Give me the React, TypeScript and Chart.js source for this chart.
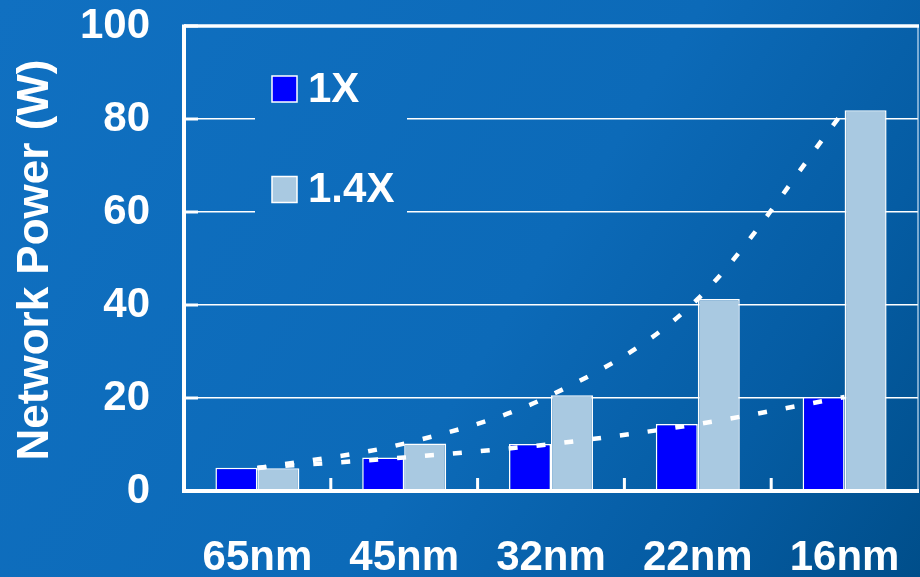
import React, { useEffect, useRef } from "react";
import { Chart, registerables } from "chart.js";

Chart.register(...registerables);

const categories = ["65nm", "45nm", "32nm", "22nm", "16nm"];
const series1X = [5.0, 7.2, 10.1, 14.4, 20.2];
const series14X = [4.9, 10.2, 20.6, 41.3, 81.9];
const yTicks = [0, 20, 40, 60, 80, 100];
const legendLabels = ["1X", "1.4X"];
const yTitle = "Network Power (W)";

const FONT = '"Liberation Sans", Arial, Helvetica, sans-serif';
const COLOR_1X = "#0000ff";
const COLOR_14X = "#a9c9e1";

function makeBg(ctx: CanvasRenderingContext2D, w: number, h: number) {
  const g = ctx.createLinearGradient(0, 0, w, h);
  g.addColorStop(0, "rgb(16,112,193)");
  g.addColorStop(0.55, "rgb(12,106,184)");
  g.addColorStop(0.8, "rgb(5,92,163)");
  g.addColorStop(1, "rgb(0,78,138)");
  return g;
}

const decorPlugin = {
  id: "decor",
  beforeDraw(chart: any) {
    const { ctx, width, height } = chart;
    ctx.save();
    ctx.fillStyle = makeBg(ctx, width, height);
    ctx.fillRect(0, 0, width, height);
    ctx.restore();
  },
  beforeDatasetsDraw(chart: any) {
    const { ctx, width, height } = chart;
    ctx.save();
    // legend box covering gridlines
    ctx.fillStyle = makeBg(ctx, width, height);
    ctx.fillRect(255, 45, 152, 185);
    const colors = [COLOR_1X, COLOR_14X];
    const ys = [89, 189.5];
    ctx.font = `bold 42px ${FONT}`;
    ctx.textBaseline = "middle";
    ctx.textAlign = "left";
    legendLabels.forEach((lab, i) => {
      ctx.fillStyle = colors[i];
      ctx.fillRect(272, ys[i] - 13, 25, 26);
      ctx.strokeStyle = "#ffffff";
      ctx.lineWidth = 1.5;
      ctx.strokeRect(272, ys[i] - 13, 25, 26);
      ctx.fillStyle = "#ffffff";
      ctx.fillText(lab, 308, ys[i] + 1);
    });
    ctx.restore();
  },
  afterDraw(chart: any) {
    const { ctx, chartArea } = chart;
    const { left, right, top, bottom } = chartArea;
    const yScale = chart.scales.y;
    ctx.save();
    // right thin border
    ctx.lineWidth = 1.2;
    ctx.strokeStyle = "rgba(215,232,248,0.95)";
    ctx.beginPath();
    ctx.moveTo(right, top);
    ctx.lineTo(right, bottom);
    ctx.stroke();
    ctx.strokeStyle = "#ffffff";
    // top border
    ctx.lineWidth = 3.5;
    ctx.beginPath();
    ctx.moveTo(left, top);
    ctx.lineTo(right + 1, top);
    ctx.stroke();
    // left axis
    ctx.lineWidth = 4;
    ctx.beginPath();
    ctx.moveTo(left, top - 1.5);
    ctx.lineTo(left, bottom + 2);
    ctx.stroke();
    // bottom axis
    ctx.beginPath();
    ctx.moveTo(left - 2, bottom);
    ctx.lineTo(right + 1, bottom);
    ctx.stroke();
    // y inward ticks
    ctx.lineWidth = 3;
    yTicks.forEach((v) => {
      const y = yScale.getPixelForValue(v);
      ctx.beginPath();
      ctx.moveTo(left, y);
      ctx.lineTo(left + 14, y);
      ctx.stroke();
    });
    // x inward ticks at category boundaries
    const cw = (right - left) / categories.length;
    for (let i = 1; i < categories.length; i++) {
      const x = left + i * cw;
      ctx.beginPath();
      ctx.moveTo(x, bottom);
      ctx.lineTo(x, bottom - 13);
      ctx.stroke();
    }
    // y title
    ctx.translate(36, 260);
    ctx.rotate(-Math.PI / 2);
    ctx.fillStyle = "#ffffff";
    ctx.font = `bold 44px ${FONT}`;
    ctx.textAlign = "center";
    ctx.textBaseline = "middle";
    ctx.fillText(yTitle, 0, 0);
    ctx.restore();
  },
};

export default function App() {
  const ref = useRef<HTMLCanvasElement | null>(null);
  useEffect(() => {
    document.body.style.margin = "0";
    if (!ref.current) return;
    const lineStyle = {
      type: "line" as const,
      borderColor: "#ffffff",
      borderWidth: 4.5,
      borderDash: [9, 19],
      borderCapStyle: "butt" as const,
      pointRadius: 0,
      fill: false,
      cubicInterpolationMode: "monotone" as const,
      order: 0,
    };
    const chart = new Chart(ref.current, {
      type: "bar",
      data: {
        labels: categories,
        datasets: [
          {
            label: legendLabels[0],
            data: series1X,
            backgroundColor: COLOR_1X,
            borderColor: "#ffffff",
            borderWidth: 1.5,
            order: 1,
          },
          {
            label: legendLabels[1],
            data: series14X,
            backgroundColor: COLOR_14X,
            borderColor: "#ffffff",
            borderWidth: 1.5,
            order: 1,
          },
          { ...lineStyle, label: "trend1X", data: series1X } as any,
          { ...lineStyle, label: "trend14X", data: series14X } as any,
        ],
      },
      options: {
        responsive: false,
        animation: false,
        devicePixelRatio: 1,
        layout: { padding: { top: 26, right: 2, left: 0, bottom: 0 } },
        datasets: {
          bar: { categoryPercentage: 0.572, barPercentage: 1.0 },
        },
        plugins: {
          legend: { display: false },
          tooltip: { enabled: false },
          title: { display: false },
        },
        scales: {
          x: {
            grid: { display: false, drawTicks: false },
            border: { display: false },
            ticks: {
              color: "#ffffff",
              font: { family: FONT, size: 42, weight: "bold" },
              padding: 42,
              maxRotation: 0,
              autoSkip: false,
            },
            afterFit(scale: any) {
              scale.height = 86;
              scale.paddingLeft = 0;
              scale.paddingRight = 0;
            },
          },
          y: {
            min: 0,
            max: 100,
            ticks: {
              stepSize: 20,
              color: "#ffffff",
              font: { family: FONT, size: 42, weight: "bold" },
              padding: 34,
            },
            grid: { color: "#ffffff", lineWidth: 1.5, drawTicks: false },
            border: { display: false },
            afterFit(scale: any) {
              scale.width = 184;
              scale.paddingTop = 0;
              scale.paddingBottom = 0;
            },
          },
        },
      },
      plugins: [decorPlugin],
    });
    return () => chart.destroy();
  }, []);
  return (
    <div style={{ position: "fixed", left: 0, top: 0, width: 920, height: 577 }}>
      <canvas ref={ref} width={920} height={577} />
    </div>
  );
}
